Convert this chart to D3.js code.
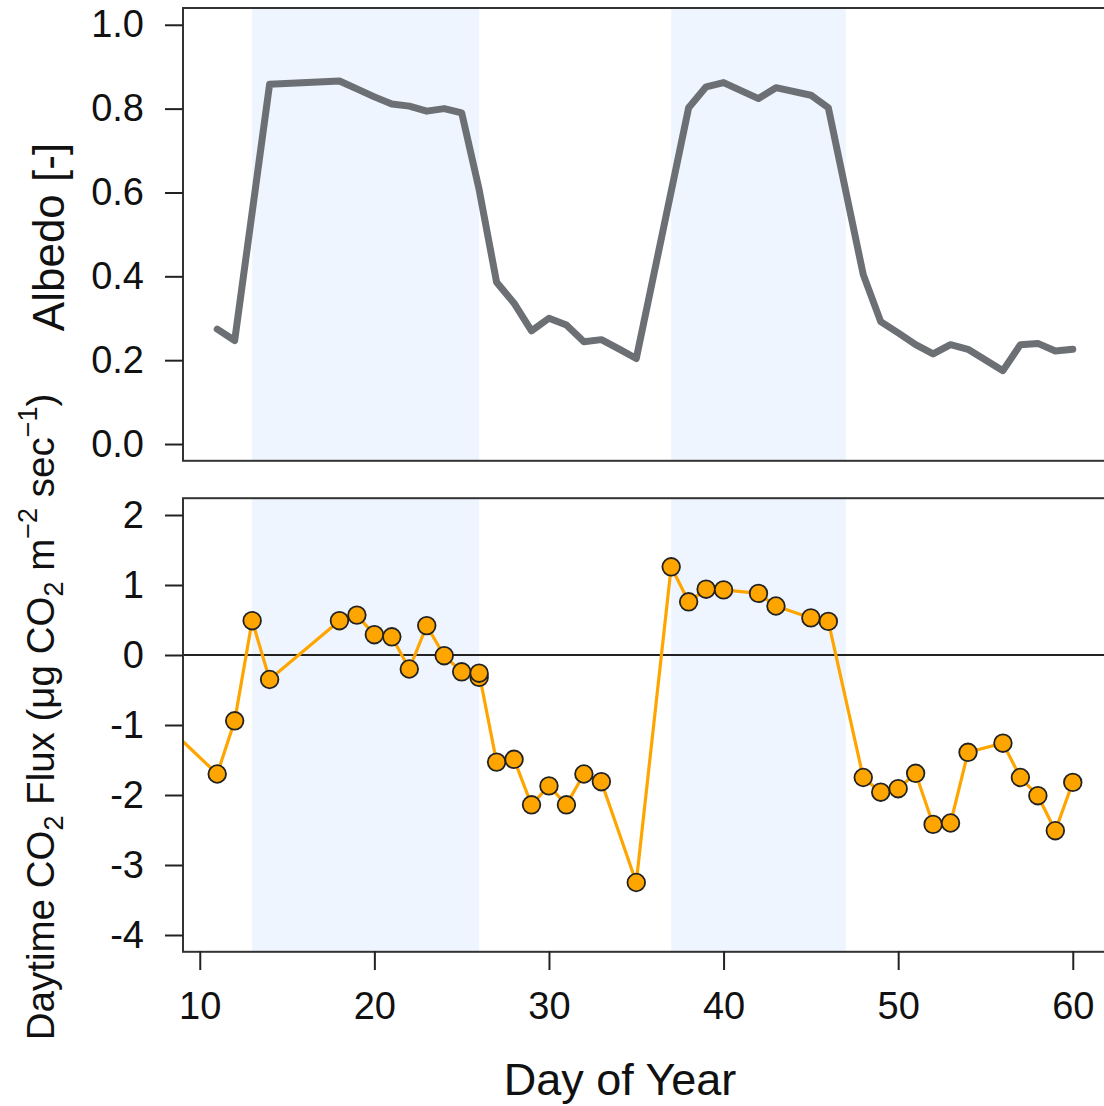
<!DOCTYPE html>
<html>
<head>
<meta charset="utf-8">
<script src="https://cdn.jsdelivr.net/npm/d3@7"></script>
<style>
  html, body { margin: 0; padding: 0; background: #fff; }
  svg { display: block; font-family: "Liberation Sans", Arial, sans-serif; }
</style>
</head>
<body>
<svg id="chart" width="1104" height="1106"></svg>
<script>
// Snow-covered periods (day of year), shaded in both panels
const snowStart = [13, 37];
const snowEnd = [26, 47];

// Daily surface albedo
const albedoDays = [11, 12, 14, 18, 19, 20, 21, 22, 23, 24, 25, 26, 27, 28, 29, 30, 31, 32, 33, 34, 35,
  38, 39, 40, 42, 43, 45, 46, 48, 49, 50, 51, 52, 53, 54, 56, 57, 58, 59, 60];
const albedoValues = [0.274, 0.247, 0.858, 0.866, 0.847, 0.828, 0.811, 0.806, 0.794, 0.800, 0.790, 0.607,
  0.386, 0.336, 0.270, 0.300, 0.284, 0.244, 0.249, 0.227, 0.204,
  0.802, 0.852, 0.862, 0.824, 0.850, 0.832, 0.802, 0.404, 0.292, 0.265, 0.237, 0.215, 0.237, 0.226,
  0.175, 0.237, 0.240, 0.222, 0.226];

// Daytime CO2 flux (µg CO2 m-2 s-1)
const fluxDays = [8, 11, 12, 13, 14, 18, 19, 20, 21, 22, 23, 24, 25, 26, 26, 27, 28, 29, 30, 31, 32, 33, 35,
  37, 38, 39, 40, 42, 43, 45, 46, 48, 49, 50, 51, 52, 53, 54, 56, 57, 58, 59, 60];
const fluxValues = [-0.99, -1.70, -0.94, 0.49, -0.35, 0.49, 0.57, 0.29, 0.26, -0.20, 0.42, -0.01, -0.24,
  -0.32, -0.26, -1.53, -1.49, -2.14, -1.87, -2.14, -1.70, -1.81, -3.25,
  1.26, 0.76, 0.94, 0.93, 0.88, 0.70, 0.53, 0.48, -1.75, -1.96, -1.91, -1.69, -2.42, -2.40, -1.39,
  -1.26, -1.75, -2.01, -2.51, -1.82];

// Axis ticks
const dayTicks = [10, 20, 30, 40, 50, 60];
const albedoTicks = [0.0, 0.2, 0.4, 0.6, 0.8, 1.0];
const fluxTicks = [-4, -3, -2, -1, 0, 1, 2];

const svg = d3.select("#chart");
const FONT = 38;
const INK = "#222";

const left = 183, right = 1107;
const x = d3.scaleLinear().domain([9.04, 61.96]).range([left, right]);

const panels = [
  { top: 8, bottom: 460.8, domain: [-0.04, 1.04] },
  { top: 498.2, bottom: 951.8, domain: [-4.24, 2.24] }
];
const yA = d3.scaleLinear().domain(panels[0].domain).range([panels[0].bottom, panels[0].top]);
const yF = d3.scaleLinear().domain(panels[1].domain).range([panels[1].bottom, panels[1].top]);

const snow = snowStart.map((s, i) => ({ start: s, end: snowEnd[i] }));

panels.forEach((p, i) => {
  // clip region for the plotting area
  svg.append("clipPath").attr("id", "clip" + i)
    .append("rect")
    .attr("x", left).attr("y", p.top)
    .attr("width", right - left).attr("height", p.bottom - p.top);

  // shaded snow periods
  svg.append("g").selectAll("rect").data(snow).join("rect")
    .attr("x", d => x(d.start))
    .attr("width", d => x(d.end) - x(d.start))
    .attr("y", p.top).attr("height", p.bottom - p.top)
    .attr("fill", "#eef5fe");
});

// ---- Albedo panel ----
const albedo = albedoDays.map((d, i) => ({ day: d, v: albedoValues[i] }));
svg.append("path")
  .datum(albedo)
  .attr("clip-path", "url(#clip0)")
  .attr("fill", "none")
  .attr("stroke", "#6c7075")
  .attr("stroke-width", 7)
  .attr("stroke-linejoin", "round")
  .attr("stroke-linecap", "round")
  .attr("d", d3.line().x(d => x(d.day)).y(d => yA(d.v)));

// ---- Flux panel ----
const flux = fluxDays.map((d, i) => ({ day: d, v: fluxValues[i] }));
const fluxG = svg.append("g").attr("clip-path", "url(#clip1)");

fluxG.append("line")
  .attr("x1", left).attr("x2", right)
  .attr("y1", yF(0)).attr("y2", yF(0))
  .attr("stroke", INK).attr("stroke-width", 2);

fluxG.append("path")
  .datum(flux)
  .attr("fill", "none")
  .attr("stroke", "#ffa500")
  .attr("stroke-width", 3.2)
  .attr("d", d3.line().x(d => x(d.day)).y(d => yF(d.v)));

fluxG.selectAll("circle").data(flux).join("circle")
  .attr("cx", d => x(d.day))
  .attr("cy", d => yF(d.v))
  .attr("r", 8.8)
  .attr("fill", "#ffa500")
  .attr("stroke", INK)
  .attr("stroke-width", 1.8);

// ---- Frames (right side falls outside the drawing) ----
panels.forEach(p => {
  svg.append("rect")
    .attr("x", left).attr("y", p.top)
    .attr("width", right - left).attr("height", p.bottom - p.top)
    .attr("fill", "none").attr("stroke", "#333").attr("stroke-width", 2);
});

// ---- Axes ----
function styleAxis(g) {
  g.select(".domain").remove();
  g.selectAll(".tick line").attr("stroke", INK).attr("stroke-width", 2);
  g.selectAll(".tick text").attr("font-size", FONT).attr("fill", "#111")
    .attr("font-family", "'Liberation Sans', Arial, sans-serif");
}

svg.append("g")
  .attr("transform", `translate(${left},0)`)
  .call(d3.axisLeft(yA).tickValues(albedoTicks).tickSize(18).tickPadding(21)
    .tickFormat(d3.format(".1f")))
  .call(styleAxis);

svg.append("g")
  .attr("transform", `translate(${left},0)`)
  .call(d3.axisLeft(yF).tickValues(fluxTicks).tickSize(18).tickPadding(21)
    .tickFormat(d => String(d)))
  .call(styleAxis);

svg.append("g")
  .attr("transform", `translate(0,${panels[1].bottom - 0.8})`)
  .call(d3.axisBottom(x).tickValues(dayTicks).tickSize(19).tickPadding(22)
    .tickFormat(d => String(d)))
  .call(styleAxis);

// ---- Axis titles ----
svg.append("text")
  .attr("x", 620).attr("y", 1095)
  .attr("text-anchor", "middle")
  .attr("font-size", 45).attr("fill", "#111")
  .text("Day of Year");

svg.append("text")
  .attr("transform", "translate(64,237) rotate(-90)")
  .attr("text-anchor", "middle")
  .attr("font-size", 44).attr("fill", "#111")
  .text("Albedo [-]");

const fluxTitle = svg.append("text")
  .attr("transform", "translate(54,717) rotate(-90)")
  .attr("text-anchor", "middle")
  .attr("font-size", 38.5).attr("fill", "#111");

const parts = [
  { t: "Daytime CO" },
  { t: "2", sub: true },
  { t: " Flux (\u03bcg CO" },
  { t: "2", sub: true },
  { t: " m" },
  { t: "\u22122", sup: true },
  { t: " sec" },
  { t: "\u22121", sup: true },
  { t: ")" }
];
let shift = 0;
parts.forEach(p => {
  const target = p.sub ? 9 : p.sup ? -17 : 0;
  fluxTitle.append("tspan")
    .attr("dy", target - shift)
    .attr("font-size", p.sub || p.sup ? 27 : 38.5)
    .text(p.t);
  shift = target;
});
</script>
</body>
</html>
